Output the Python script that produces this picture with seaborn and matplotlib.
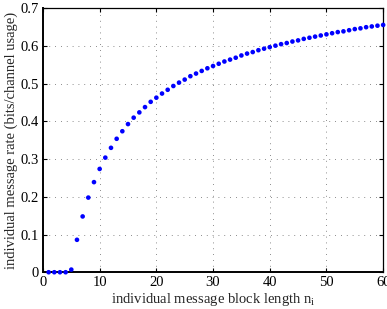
import seaborn as sns
import pandas as pd
import matplotlib
matplotlib.use("Agg")
import matplotlib.pyplot as plt

# block lengths and rates
block_len = list(range(1, 61))
rate = [0, 0, 0, 0, 0.007, 0.086, 0.148, 0.198, 0.239, 0.274,
        0.304, 0.330, 0.354, 0.374, 0.393, 0.410, 0.424, 0.438, 0.452, 0.463,
        0.474, 0.484, 0.494, 0.503, 0.511, 0.520, 0.527, 0.534, 0.541, 0.547,
        0.553, 0.559, 0.564, 0.569, 0.575, 0.580, 0.584, 0.589, 0.593, 0.597,
        0.601, 0.605, 0.608, 0.612, 0.615, 0.619, 0.622, 0.625, 0.628, 0.631,
        0.634, 0.637, 0.639, 0.642, 0.645, 0.647, 0.650, 0.652, 0.654, 0.656]
x_ticks = [0, 10, 20, 30, 40, 50, 60]
y_ticks = [0, 0.1, 0.2, 0.3, 0.4, 0.5, 0.6, 0.7]

df = pd.DataFrame({"n": block_len, "rate": rate})

sns.set_style("ticks")
plt.rcParams["font.family"] = ["Liberation Serif", "DejaVu Serif"]
plt.rcParams["mathtext.default"] = "regular"

fig = plt.figure(figsize=(3.87, 3.09), dpi=100)
ax = fig.add_axes([0.111, 0.119, 0.879, 0.854])

sns.scatterplot(data=df, x="n", y="rate", ax=ax, color="#0000ff",
                s=11, edgecolor="none", zorder=3, clip_on=False)

ax.set_xlim(0, 60)
ax.set_ylim(0, 0.7)
ax.set_xticks(x_ticks)
ax.set_yticks(y_ticks)
ax.set_xticklabels([str(t) for t in x_ticks])
ax.set_yticklabels(["0"] + [f"{t:.1f}" for t in y_ticks[1:]])
ax.grid(True, linestyle=(0, (1, 6)), color="#666666", linewidth=0.6)
ax.tick_params(direction="in", top=True, right=True, labelsize=10.5,
               length=3, width=0.8, colors="black", pad=3)
for s in ax.spines.values():
    s.set_visible(True)
    s.set_color("black")
    s.set_linewidth(0.9)
ax.spines["left"].set_linewidth(1.4)
ax.spines["bottom"].set_linewidth(1.4)

ax.set_xlabel("individual message block length n$_i$", fontsize=10.5, labelpad=1)
ax.set_ylabel("individual message rate (bits/channel usage)", fontsize=10.5, labelpad=2)

fig.savefig("out.png", dpi=100)
